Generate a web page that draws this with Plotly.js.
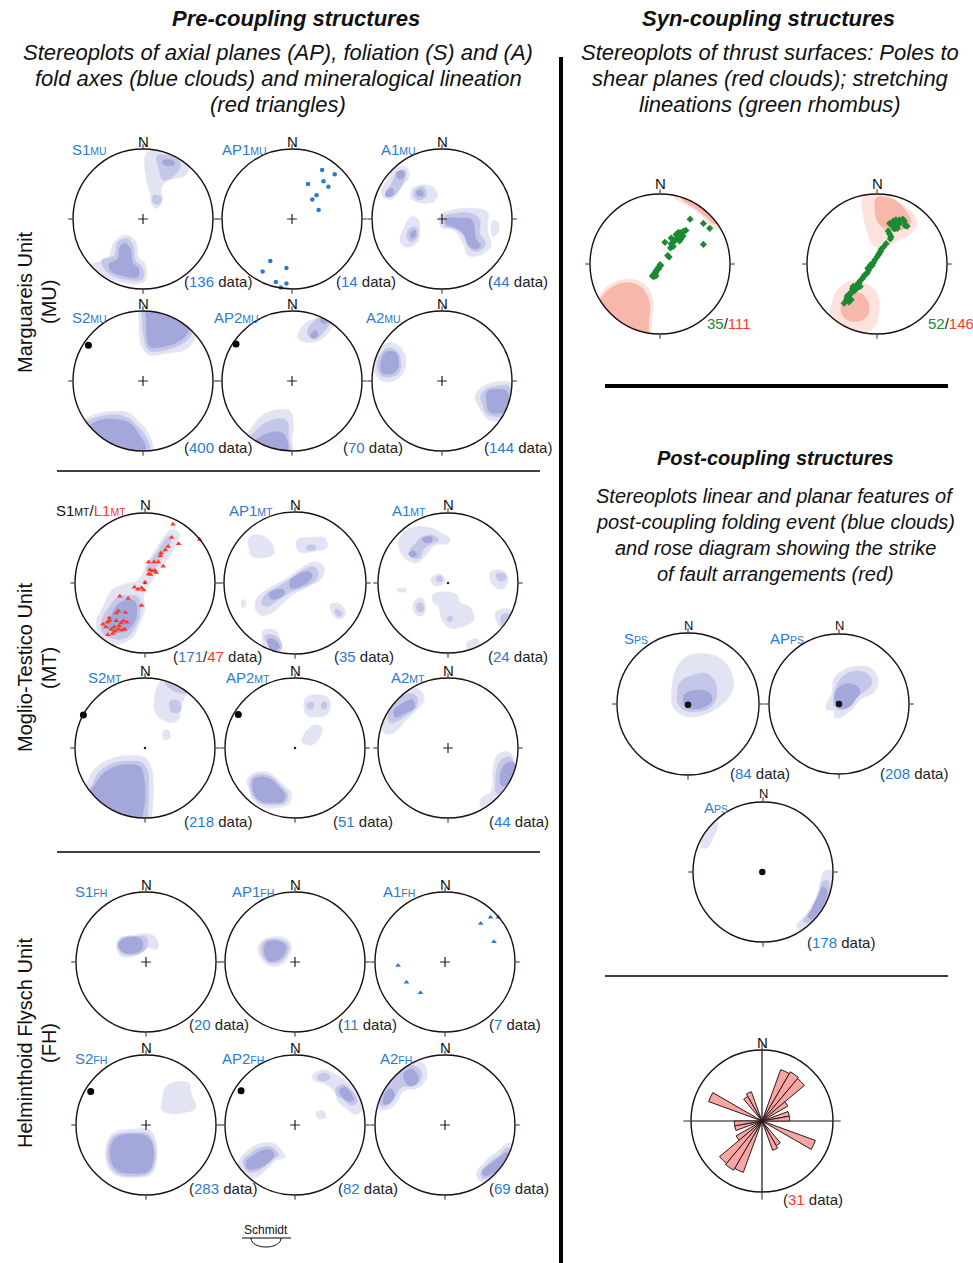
<!DOCTYPE html>
<html><head><meta charset="utf-8">
<script src="https://cdn.plot.ly/plotly-3.0.1.min.js"></script>
<style>html,body{margin:0;padding:0;background:#fff}#chart{width:973px;height:1263px}</style>
</head><body><div id="chart"></div>
<script>
// ---------------- DATA (unit-net coordinates: x = East, y = North, |v|<=1) ----------------
// Cloud contours: [level, polygon]; L = low density, M = medium, D = high density
const CLOUD_S1MU = [
 ['L',[[0.05,0.94],[0.23,1.0],[0.51,0.94],[0.66,0.77],[0.61,0.63],[0.36,0.55],[0.26,0.44],[0.28,0.27],[0.20,0.15],[0.13,0.20],[0.10,0.39],[0.05,0.55]]],
 ['L',[[-0.74,-0.64],[-0.51,-0.57],[-0.41,-0.33],[-0.26,-0.23],[-0.11,-0.31],[-0.06,-0.55],[0.03,-0.64],[0.03,-0.88],[-0.10,-0.93],[-0.36,-0.89],[-0.66,-0.79],[-0.77,-0.71]]],
 ['M',[[0.20,0.90],[0.46,0.88],[0.54,0.77],[0.42,0.60],[0.28,0.56],[0.23,0.72]]],
 ['M',[[0.15,0.34],[0.26,0.31],[0.24,0.22],[0.15,0.23]]],
 ['M',[[-0.59,-0.59],[-0.41,-0.52],[-0.36,-0.33],[-0.23,-0.28],[-0.14,-0.38],[-0.11,-0.59],[-0.01,-0.69],[-0.01,-0.86],[-0.26,-0.86],[-0.51,-0.76]]],
 ['D',[[0.28,0.83],[0.42,0.84],[0.45,0.78],[0.31,0.77]]],
 ['D',[[-0.48,-0.64],[-0.36,-0.57],[-0.33,-0.40],[-0.26,-0.35],[-0.18,-0.43],[-0.15,-0.62],[-0.06,-0.71],[-0.08,-0.83],[-0.28,-0.81],[-0.46,-0.74]]]
];
const PTS_AP1MU = [[0.43,0.70],[0.61,0.64],[0.23,0.50],[0.45,0.54],[0.52,0.46],[0.35,0.34],[0.29,0.28],[0.38,0.13],
 [-0.31,-0.60],[-0.42,-0.75],[-0.08,-0.70],[-0.23,-0.90],[-0.08,-0.92],[-0.16,-0.98]];
const CLOUD_A1MU = [
 ['L',[[-0.78,0.56],[-0.67,0.72],[-0.52,0.75],[-0.47,0.60],[-0.60,0.44],[-0.70,0.29],[-0.84,0.31],[-0.86,0.44]]],
 ['L',[[-0.44,0.41],[-0.34,0.48],[-0.14,0.46],[-0.06,0.34],[-0.14,0.24],[-0.34,0.24],[-0.44,0.29]]],
 ['L',[[-0.57,-0.19],[-0.44,0.03],[-0.34,0.0],[-0.32,-0.21],[-0.37,-0.35],[-0.52,-0.40],[-0.60,-0.31]]],
 ['L',[[-0.03,0.05],[0.14,0.13],[0.47,0.15],[0.65,0.10],[0.65,-0.16],[0.70,-0.38],[0.58,-0.50],[0.37,-0.52],[0.30,-0.35],[0.17,-0.16],[-0.01,-0.12]]],
 ['L',[[0.73,-0.02],[0.81,-0.07],[0.79,-0.21],[0.72,-0.24],[0.70,-0.11]]],
 ['M',[[-0.72,0.51],[-0.62,0.69],[-0.52,0.67],[-0.55,0.53],[-0.67,0.35],[-0.81,0.33]]],
 ['M',[[-0.39,0.41],[-0.27,0.46],[-0.22,0.34],[-0.32,0.27],[-0.40,0.32]]],
 ['M',[[-0.47,-0.14],[-0.37,-0.12],[-0.35,-0.26],[-0.44,-0.33],[-0.50,-0.26]]],
 ['M',[[0.04,0.04],[0.19,0.08],[0.42,0.08],[0.54,-0.01],[0.54,-0.21],[0.62,-0.35],[0.52,-0.46],[0.40,-0.43],[0.32,-0.26],[0.19,-0.14],[0.04,-0.10]]],
 ['D',[[-0.65,0.66],[-0.55,0.69],[-0.54,0.60],[-0.62,0.57]]],
 ['D',[[-0.80,0.39],[-0.71,0.44],[-0.70,0.34],[-0.79,0.32]]],
 ['D',[[-0.37,0.39],[-0.29,0.41],[-0.27,0.34],[-0.34,0.33]]],
 ['D',[[-0.44,-0.19],[-0.38,-0.16],[-0.39,-0.26],[-0.44,-0.27]]],
 ['D',[[0.06,0.0],[0.27,0.01],[0.41,0.0],[0.46,-0.11],[0.48,-0.28],[0.55,-0.38],[0.47,-0.43],[0.37,-0.36],[0.31,-0.21],[0.16,-0.11],[0.06,-0.07]]]
];
const CLOUD_S2MU = [
 ['L',[[-0.06,0.88],[-0.05,1.03],[0.36,1.07],[0.82,0.88],[0.76,0.64],[0.61,0.45],[0.36,0.40],[0.10,0.37],[-0.01,0.47],[-0.05,0.68]]],
 ['L',[[-0.84,-0.56],[-0.69,-0.48],[-0.41,-0.43],[-0.19,-0.46],[-0.08,-0.56],[0.05,-0.70],[0.13,-1.01],[-0.51,-1.09],[-1.02,-0.80]]],
 ['M',[[-0.01,0.88],[0.0,1.03],[0.40,1.02],[0.71,0.88],[0.69,0.66],[0.54,0.52],[0.31,0.44],[0.08,0.44],[0.01,0.64]]],
 ['M',[[-0.79,-0.58],[-0.66,-0.52],[-0.38,-0.48],[-0.20,-0.54],[-0.10,-0.63],[0.03,-0.78],[0.09,-1.01],[-0.51,-1.09],[-0.99,-0.80]]],
 ['D',[[0.05,0.88],[0.05,1.03],[0.40,0.98],[0.66,0.85],[0.62,0.66],[0.48,0.55],[0.28,0.49],[0.10,0.49],[0.05,0.68]]],
 ['D',[[-0.74,-0.62],[-0.61,-0.56],[-0.36,-0.55],[-0.18,-0.61],[-0.08,-0.73],[0.03,-0.99],[-0.51,-1.09],[-0.97,-0.82]]]
];
const CLOUD_AP2MU = [
 ['L',[[0.09,0.61],[0.16,0.80],[0.32,0.89],[0.49,0.95],[0.62,0.88],[0.51,0.68],[0.41,0.59],[0.24,0.55]]],
 ['L',[[-0.65,-0.75],[-0.45,-0.51],[-0.22,-0.41],[-0.03,-0.43],[0.02,-0.58],[0.0,-0.85],[0.01,-1.04],[-0.70,-1.09],[-0.86,-0.85]]],
 ['M',[[0.22,0.69],[0.29,0.83],[0.44,0.92],[0.55,0.86],[0.44,0.69],[0.34,0.60],[0.26,0.62]]],
 ['M',[[-0.60,-0.78],[-0.40,-0.61],[-0.19,-0.54],[-0.07,-0.58],[-0.05,-0.80],[-0.04,-1.04],[-0.70,-1.09],[-0.83,-0.87]]],
 ['D',[[0.27,0.67],[0.34,0.72],[0.37,0.65],[0.29,0.61]]],
 ['D',[[0.42,0.91],[0.52,0.89],[0.48,0.82],[0.41,0.84]]],
 ['D',[[-0.53,-0.85],[-0.35,-0.75],[-0.17,-0.73],[-0.09,-0.80],[-0.08,-1.04],[-0.65,-1.09],[-0.70,-0.97]]]
];
const CLOUD_A2MU = [
 ['L',[[-0.91,0.40],[-0.78,0.55],[-0.64,0.52],[-0.52,0.35],[-0.55,0.13],[-0.67,0.01],[-0.85,0.0],[-0.98,0.16]]],
 ['L',[[0.47,-0.22],[0.58,-0.08],[0.81,-0.01],[0.98,-0.03],[1.04,-0.32],[0.93,-0.54],[0.78,-0.58],[0.65,-0.54],[0.53,-0.37]]],
 ['M',[[-0.88,0.37],[-0.78,0.47],[-0.66,0.44],[-0.59,0.30],[-0.61,0.13],[-0.72,0.06],[-0.86,0.07],[-0.93,0.21]]],
 ['M',[[0.55,-0.22],[0.63,-0.12],[0.81,-0.07],[0.96,-0.08],[0.98,-0.32],[0.91,-0.49],[0.76,-0.51],[0.63,-0.46],[0.58,-0.34]]],
 ['D',[[-0.85,0.35],[-0.78,0.42],[-0.67,0.41],[-0.62,0.30],[-0.64,0.16],[-0.75,0.10],[-0.86,0.12]]],
 ['D',[[0.65,-0.15],[0.83,-0.12],[0.93,-0.15],[0.93,-0.42],[0.81,-0.46],[0.68,-0.44],[0.64,-0.32]]]
];
const CLOUD_S1MT = [
 ['L',[[-0.64,-0.78],[-0.70,-0.58],[-0.60,-0.34],[-0.48,-0.11],[-0.31,-0.02],[-0.10,0.04],[0.03,0.28],[0.18,0.52],[0.37,0.76],[0.49,0.71],[0.37,0.41],[0.20,0.18],[0.07,-0.01],[-0.02,-0.18],[0.0,-0.37],[-0.08,-0.58],[-0.18,-0.78],[-0.38,-0.88],[-0.56,-0.86]]],
 ['M',[[-0.61,-0.70],[-0.61,-0.51],[-0.51,-0.34],[-0.38,-0.20],[-0.23,-0.18],[-0.10,-0.20],[-0.07,-0.42],[-0.14,-0.63],[-0.26,-0.78],[-0.43,-0.80]]],
 ['M',[[0.04,0.25],[0.18,0.45],[0.33,0.66],[0.38,0.64],[0.26,0.40],[0.10,0.17],[0.03,0.16]]],
 ['D',[[-0.54,-0.63],[-0.48,-0.46],[-0.38,-0.30],[-0.24,-0.24],[-0.14,-0.27],[-0.12,-0.46],[-0.20,-0.63],[-0.33,-0.70],[-0.46,-0.70]]]
];
const PTS_L1MT = [[0.40,0.84],[0.38,0.65],[0.48,0.56],[0.78,0.62],[0.33,0.52],[0.29,0.47],[0.23,0.43],[0.22,0.39],[0.05,0.30],[0.13,0.30],
 [0.19,0.30],[0.26,0.24],[0.07,0.19],[0.10,0.17],[0.14,0.18],[0.05,0.13],[0.08,0.12],[0.16,0.15],[0.0,0.01],[-0.15,-0.06],
 [-0.10,-0.09],[-0.05,-0.07],[-0.02,-0.10],[-0.24,-0.22],[-0.36,-0.19],[-0.05,-0.32],[-0.38,-0.40],[-0.41,-0.43],[-0.28,-0.42],[-0.51,-0.50],
 [-0.54,-0.56],[-0.60,-0.59],[-0.41,-0.54],[-0.31,-0.54],[-0.26,-0.56],[-0.48,-0.66],[-0.43,-0.69],[-0.38,-0.66],[-0.33,-0.67],[-0.29,-0.66],
 [-0.53,-0.74],[-0.46,-0.72],[-0.37,-0.61],[-0.56,-0.63],[-0.44,-0.63],[-0.34,-0.57],[-0.51,-0.54]];
const CLOUD_AP1MT = [
 ['L',[[-0.56,-0.36],[-0.54,-0.22],[-0.34,-0.06],[-0.14,0.05],[0.07,0.20],[0.27,0.30],[0.41,0.23],[0.37,0.06],[0.17,-0.06],[-0.04,-0.17],[-0.19,-0.30],[-0.34,-0.43],[-0.49,-0.45]]],
 ['L',[[-0.64,0.65],[-0.47,0.67],[-0.31,0.53],[-0.31,0.40],[-0.59,0.37],[-0.65,0.49]]],
 ['L',[[0.02,0.60],[0.20,0.64],[0.42,0.63],[0.45,0.50],[0.30,0.45],[0.06,0.44]]],
 ['L',[[-0.75,-0.24],[-0.70,-0.24],[-0.70,-0.33],[-0.75,-0.34]]],
 ['L',[[0.50,-0.30],[0.64,-0.30],[0.71,-0.44],[0.62,-0.51],[0.53,-0.44]]],
 ['L',[[-0.45,-0.67],[-0.27,-0.67],[-0.20,-0.86],[-0.22,-1.02],[-0.43,-1.02],[-0.46,-0.81]]],
 ['M',[[-0.47,-0.29],[-0.42,-0.17],[-0.24,-0.05],[-0.06,0.06],[0.11,0.18],[0.26,0.23],[0.33,0.14],[0.27,0.02],[0.09,-0.07],[-0.09,-0.14],[-0.24,-0.24],[-0.39,-0.33]]],
 ['M',[[0.57,-0.37],[0.67,-0.42],[0.63,-0.47],[0.57,-0.44]]],
 ['M',[[-0.42,-0.74],[-0.32,-0.73],[-0.21,-0.81],[-0.19,-0.93],[-0.29,-0.96],[-0.39,-0.86]]],
 ['M',[[0.16,0.52],[0.28,0.53],[0.29,0.48],[0.17,0.47]]],
 ['D',[[-0.36,-0.14],[-0.17,-0.09],[-0.15,-0.16],[-0.33,-0.23]]],
 ['D',[[-0.06,0.05],[0.20,0.16],[0.24,0.09],[0.13,-0.02],[-0.06,-0.07]]],
 ['D',[[-0.38,-0.79],[-0.27,-0.81],[-0.22,-0.91],[-0.33,-0.95]]]
];
const CLOUD_A1MT = [
 ['L',[[-0.70,0.63],[-0.55,0.78],[-0.29,0.80],[-0.09,0.71],[0.03,0.63],[-0.01,0.56],[-0.19,0.54],[-0.32,0.39],[-0.44,0.29],[-0.57,0.32],[-0.67,0.42]]],
 ['L',[[-0.24,0.06],[-0.14,0.13],[-0.04,0.06],[-0.09,-0.03],[-0.21,-0.03]]],
 ['L',[[0.60,0.15],[0.78,0.18],[0.86,0.06],[0.78,-0.09],[0.65,-0.04]]],
 ['L',[[-0.72,-0.09],[-0.60,-0.08],[-0.60,-0.12],[-0.72,-0.12]]],
 ['L',[[-0.49,-0.28],[-0.37,-0.21],[-0.32,-0.37],[-0.37,-0.47],[-0.47,-0.44]]],
 ['L',[[-0.21,-0.16],[0.12,-0.16],[0.17,-0.28],[0.32,-0.35],[0.37,-0.52],[0.22,-0.62],[0.02,-0.64],[-0.09,-0.52],[-0.14,-0.33],[-0.21,-0.28]]],
 ['L',[[0.68,-0.42],[0.88,-0.37],[0.93,-0.61],[0.78,-0.66],[0.70,-0.56]]],
 ['L',[[0.27,-0.85],[0.42,-0.80],[0.47,-0.95],[0.32,-1.0]]],
 ['M',[[-0.55,0.46],[-0.47,0.56],[-0.37,0.66],[-0.21,0.68],[-0.13,0.61],[-0.24,0.56],[-0.34,0.49],[-0.42,0.35],[-0.52,0.37]]],
 ['M',[[-0.16,0.08],[-0.09,0.10],[-0.08,0.03],[-0.15,0.02]]],
 ['M',[[0.69,0.13],[0.81,0.13],[0.83,0.06],[0.73,0.03]]],
 ['M',[[-0.44,-0.30],[-0.37,-0.29],[-0.35,-0.40],[-0.43,-0.41]]],
 ['M',[[-0.01,-0.49],[0.06,-0.48],[0.06,-0.54],[-0.01,-0.54]]],
 ['M',[[0.76,-0.47],[0.86,-0.44],[0.88,-0.61],[0.79,-0.64]]],
 ['D',[[-0.37,0.63],[-0.24,0.66],[-0.23,0.59],[-0.33,0.58]]],
 ['D',[[-0.56,0.42],[-0.49,0.46],[-0.45,0.40],[-0.52,0.37]]]
];
const CLOUD_S2MT = [
 ['L',[[0.13,0.65],[0.18,0.89],[0.33,1.01],[0.79,0.84],[0.59,0.75],[0.51,0.56],[0.48,0.41],[0.36,0.36],[0.20,0.44],[0.14,0.53]]],
 ['L',[[0.26,0.24],[0.33,0.26],[0.36,0.15],[0.27,0.12]]],
 ['L',[[-0.87,-0.57],[-0.73,-0.31],[-0.48,-0.15],[-0.23,-0.11],[0.0,-0.14],[0.09,-0.28],[0.12,-0.57],[0.10,-0.93],[0.08,-1.12],[-0.79,-1.12],[-1.05,-0.69]]],
 ['M',[[0.28,0.96],[0.33,1.03],[0.79,0.87],[0.64,0.79],[0.48,0.79],[0.33,0.87]]],
 ['M',[[0.36,0.67],[0.48,0.67],[0.51,0.53],[0.38,0.51]]],
 ['M',[[-0.80,-0.59],[-0.66,-0.35],[-0.46,-0.22],[-0.23,-0.19],[-0.04,-0.21],[0.04,-0.35],[0.05,-0.64],[0.04,-0.93],[0.03,-1.12],[-0.79,-1.12],[-1.02,-0.69]]],
 ['D',[[-0.75,-0.57],[-0.61,-0.38],[-0.43,-0.27],[-0.23,-0.24],[-0.07,-0.27],[-0.02,-0.40],[0.0,-0.69],[-0.03,-0.93],[-0.08,-1.12],[-0.74,-1.12],[-0.97,-0.74]]]
];
const CLOUD_AP2MT = [
 ['L',[[0.13,0.56],[0.15,0.71],[0.31,0.76],[0.47,0.72],[0.51,0.59],[0.45,0.47],[0.31,0.44],[0.18,0.46]]],
 ['L',[[0.10,0.09],[0.15,0.23],[0.28,0.33],[0.38,0.30],[0.36,0.16],[0.23,0.04]]],
 ['L',[[-0.69,-0.46],[-0.61,-0.37],[-0.41,-0.34],[-0.18,-0.51],[-0.05,-0.66],[-0.09,-0.80],[-0.23,-0.85],[-0.43,-0.85],[-0.61,-0.73],[-0.66,-0.58]]],
 ['M',[[0.18,0.64],[0.26,0.65],[0.26,0.57],[0.19,0.56]]],
 ['M',[[0.38,0.64],[0.44,0.66],[0.45,0.57],[0.39,0.56]]],
 ['M',[[-0.64,-0.46],[-0.56,-0.39],[-0.38,-0.39],[-0.20,-0.54],[-0.10,-0.67],[-0.14,-0.78],[-0.28,-0.81],[-0.46,-0.80],[-0.59,-0.70],[-0.64,-0.58]]],
 ['D',[[-0.60,-0.46],[-0.54,-0.42],[-0.38,-0.43],[-0.22,-0.56],[-0.14,-0.68],[-0.18,-0.77],[-0.31,-0.78],[-0.46,-0.77],[-0.58,-0.67]]]
];
const CLOUD_A2MT = [
 ['L',[[-0.89,0.54],[-0.75,0.78],[-0.54,0.88],[-0.39,0.82],[-0.34,0.69],[-0.46,0.53],[-0.61,0.39],[-0.74,0.24],[-0.88,0.20],[-0.98,0.34]]],
 ['L',[[0.64,-0.33],[0.71,-0.09],[0.87,-0.06],[0.94,-0.16],[0.97,-0.42],[0.84,-0.71],[0.71,-0.78],[0.61,-0.71],[0.64,-0.51]]],
 ['L',[[0.48,-0.71],[0.64,-0.66],[0.66,-0.83],[0.54,-0.88],[0.46,-0.83]]],
 ['M',[[-0.84,0.54],[-0.71,0.70],[-0.54,0.78],[-0.44,0.73],[-0.46,0.58],[-0.61,0.46],[-0.75,0.37],[-0.84,0.37]]],
 ['M',[[0.69,-0.33],[0.77,-0.16],[0.89,-0.13],[0.95,-0.28],[0.92,-0.52],[0.79,-0.66],[0.69,-0.64],[0.68,-0.47]]],
 ['D',[[-0.77,0.54],[-0.66,0.63],[-0.51,0.69],[-0.48,0.58],[-0.64,0.49],[-0.75,0.44]]],
 ['D',[[0.74,-0.42],[0.82,-0.23],[0.94,-0.21],[0.94,-0.37],[0.84,-0.52],[0.77,-0.54]]]
];
const CLOUD_S1FH = [
 ['L',[[-0.42,0.24],[-0.37,0.35],[-0.17,0.38],[0.06,0.40],[0.17,0.29],[0.15,0.18],[0.02,0.21],[-0.10,0.11],[-0.35,0.08]]],
 ['M',[[-0.41,0.22],[-0.36,0.33],[-0.14,0.37],[0.01,0.35],[0.02,0.24],[-0.05,0.14],[-0.32,0.11]]],
 ['D',[[-0.39,0.24],[-0.34,0.32],[-0.12,0.35],[-0.05,0.29],[-0.07,0.17],[-0.30,0.13]]]
];
const CLOUD_AP1FH = [
 ['L',[[-0.52,0.24],[-0.43,0.33],[-0.16,0.35],[-0.06,0.26],[-0.08,0.10],[-0.18,-0.03],[-0.34,-0.06],[-0.46,0.02],[-0.52,0.13]]],
 ['M',[[-0.48,0.22],[-0.41,0.31],[-0.18,0.31],[-0.09,0.24],[-0.12,0.10],[-0.22,0.0],[-0.36,-0.01],[-0.45,0.06]]],
 ['D',[[-0.44,0.21],[-0.39,0.29],[-0.21,0.29],[-0.13,0.22],[-0.16,0.10],[-0.26,0.02],[-0.38,0.02],[-0.43,0.10]]]
];
const PTS_A1FH = [[0.51,0.55],[0.65,0.64],[0.76,0.64],[0.70,0.29],[-0.67,-0.05],[-0.55,-0.29],[-0.35,-0.44]];
const CLOUD_S2FH = [
 ['L',[[0.23,0.34],[0.28,0.54],[0.41,0.61],[0.61,0.60],[0.65,0.44],[0.71,0.24],[0.56,0.18],[0.36,0.16],[0.23,0.21]]],
 ['L',[[-0.56,-0.27],[-0.46,-0.11],[-0.18,-0.06],[0.05,-0.07],[0.14,-0.22],[0.15,-0.51],[0.08,-0.70],[-0.18,-0.75],[-0.46,-0.70],[-0.57,-0.51]]],
 ['M',[[-0.54,-0.30],[-0.45,-0.15],[-0.18,-0.11],[0.03,-0.13],[0.11,-0.25],[0.13,-0.51],[0.05,-0.68],[-0.18,-0.73],[-0.43,-0.68],[-0.54,-0.51]]],
 ['D',[[-0.50,-0.30],[-0.41,-0.17],[-0.18,-0.13],[0.01,-0.16],[0.09,-0.27],[0.10,-0.51],[0.03,-0.66],[-0.18,-0.69],[-0.41,-0.65],[-0.50,-0.50]]]
];
const CLOUD_AP2FH = [
 ['L',[[0.25,0.71],[0.40,0.79],[0.57,0.73],[0.72,0.63],[0.89,0.49],[0.99,0.25],[0.86,0.15],[0.76,0.21],[0.61,0.34],[0.56,0.48],[0.40,0.60],[0.28,0.63]]],
 ['L',[[0.30,0.18],[0.40,0.20],[0.44,0.11],[0.34,0.09]]],
 ['L',[[-0.80,-0.51],[-0.69,-0.38],[-0.52,-0.27],[-0.31,-0.26],[-0.18,-0.38],[-0.14,-0.46],[-0.28,-0.51],[-0.40,-0.63],[-0.54,-0.74],[-0.70,-0.74],[-0.81,-0.63]]],
 ['M',[[0.33,0.71],[0.43,0.74],[0.51,0.68],[0.43,0.63],[0.33,0.65]]],
 ['M',[[0.58,0.52],[0.68,0.58],[0.81,0.49],[0.89,0.33],[0.81,0.28],[0.68,0.37],[0.60,0.42]]],
 ['M',[[-0.74,-0.51],[-0.64,-0.41],[-0.49,-0.32],[-0.33,-0.32],[-0.24,-0.42],[-0.31,-0.49],[-0.44,-0.60],[-0.57,-0.67],[-0.69,-0.66]]],
 ['D',[[0.63,0.49],[0.71,0.54],[0.79,0.47],[0.84,0.36],[0.76,0.34],[0.66,0.42]]],
 ['D',[[-0.70,-0.53],[-0.60,-0.44],[-0.46,-0.36],[-0.34,-0.36],[-0.30,-0.44],[-0.36,-0.51],[-0.46,-0.59],[-0.58,-0.63],[-0.68,-0.62]]]
];
const CLOUD_A2FH = [
 ['L',[[-0.96,0.44],[-0.82,0.64],[-0.69,0.83],[-0.49,0.92],[-0.30,0.87],[-0.26,0.68],[-0.39,0.53],[-0.59,0.49],[-0.68,0.34],[-0.80,0.23],[-0.95,0.23]]],
 ['L',[[0.45,-0.70],[0.58,-0.51],[0.76,-0.37],[0.91,-0.25],[0.99,-0.37],[0.88,-0.61],[0.71,-0.78],[0.53,-0.82]]],
 ['M',[[-0.91,0.42],[-0.80,0.58],[-0.67,0.78],[-0.49,0.85],[-0.36,0.80],[-0.34,0.66],[-0.44,0.56],[-0.62,0.54],[-0.72,0.40],[-0.82,0.28],[-0.92,0.28]]],
 ['M',[[0.51,-0.68],[0.63,-0.54],[0.79,-0.42],[0.90,-0.32],[0.94,-0.42],[0.84,-0.58],[0.68,-0.73],[0.54,-0.76]]],
 ['D',[[-0.87,0.42],[-0.78,0.52],[-0.72,0.44],[-0.77,0.33],[-0.87,0.30]]],
 ['D',[[-0.59,0.73],[-0.49,0.80],[-0.40,0.73],[-0.39,0.61],[-0.49,0.56],[-0.56,0.61]]],
 ['D',[[0.54,-0.66],[0.67,-0.54],[0.81,-0.44],[0.89,-0.39],[0.90,-0.49],[0.79,-0.61],[0.66,-0.70],[0.55,-0.72]]]
];
// black mean poles of S2 / AP2
const POLE_S2MU = [[-0.78,0.51]], POLE_AP2MU = [[-0.80,0.53]], POLE_S2MT = [[-0.88,0.47]];
const POLE_AP2MT = [[-0.81,0.48]], POLE_S2FH = [[-0.79,0.48]], POLE_AP2FH = [[-0.77,0.49]];
// Syn-coupling: red clouds (poles to shear planes) and green stretching lineations
const CLOUD_SYN1 = [
 ['L',[[0.16,1.05],[0.22,0.93],[0.38,0.84],[0.55,0.73],[0.70,0.58],[0.78,0.50],[1.0,0.55],[0.63,1.19],[0.20,1.15]]],
 ['L',[[-0.86,-0.44],[-0.67,-0.27],[-0.38,-0.22],[-0.19,-0.32],[-0.10,-0.53],[-0.12,-0.79],[-0.17,-1.05],[-1.0,-0.85]]],
 ['D',[[0.28,1.0],[0.34,0.90],[0.50,0.80],[0.66,0.67],[0.76,0.58],[1.0,0.62],[0.55,1.15]]],
 ['D',[[-0.84,-0.48],[-0.65,-0.31],[-0.40,-0.27],[-0.23,-0.37],[-0.15,-0.55],[-0.16,-0.80],[-0.21,-1.05],[-1.0,-0.85]]]
];
const LIN_SYN1 = [[0.43,0.64],[0.62,0.58],[0.71,0.51],[0.62,0.28],[0.37,0.48],[0.34,0.47],[0.30,0.45],[0.28,0.44],[0.26,0.45],[0.23,0.42],
 [0.25,0.38],[0.30,0.36],[0.28,0.33],[0.21,0.33],[0.16,0.37],[0.27,0.40],[0.33,0.40],[0.07,0.31],[0.16,0.29],[0.19,0.25],
 [0.15,0.23],[0.11,0.12],[0.13,0.10],[0.0,-0.01],[-0.01,-0.04],[-0.03,-0.06],[-0.05,-0.09],[-0.07,-0.12],[-0.08,-0.15],[-0.09,-0.18],
 [-0.06,-0.13],[-0.02,-0.07],[0.01,-0.02],[-0.11,-0.17],[-0.06,-0.17]];
const CLOUD_SYN2 = [
 ['L',[[-0.20,0.96],[0.02,1.04],[0.32,0.88],[0.51,0.73],[0.57,0.56],[0.46,0.42],[0.27,0.32],[0.09,0.24],[-0.05,0.26],[-0.14,0.47],[-0.20,0.73]]],
 ['L',[[-0.65,-0.57],[-0.57,-0.38],[-0.37,-0.24],[-0.14,-0.29],[0.0,-0.42],[0.03,-0.66],[-0.04,-0.90],[-0.24,-1.01],[-0.51,-0.96],[-0.67,-0.76]]],
 ['D',[[-0.03,0.78],[0.0,0.95],[0.27,0.90],[0.43,0.73],[0.48,0.59],[0.36,0.49],[0.20,0.47],[0.06,0.54],[0.0,0.63]]],
 ['D',[[-0.51,-0.59],[-0.42,-0.45],[-0.26,-0.41],[-0.14,-0.52],[-0.12,-0.71],[-0.24,-0.81],[-0.42,-0.80],[-0.50,-0.71]]]
];
const LIN_SYN2 = [[0.18,0.58],[0.23,0.61],[0.27,0.63],[0.32,0.63],[0.37,0.64],[0.39,0.61],[0.32,0.58],[0.27,0.56],[0.22,0.54],[0.16,0.47],
 [0.18,0.43],[0.25,0.50],[0.29,0.51],[0.40,0.55],[0.43,0.54],[0.20,0.39],[0.19,0.36],[0.13,0.29],[0.09,0.24],[0.06,0.21],
 [0.05,0.18],[0.02,0.13],[0.0,0.10],[-0.03,0.06],[-0.05,0.02],[-0.07,-0.02],[-0.10,-0.05],[-0.12,-0.09],[-0.14,-0.13],[-0.17,-0.15],
 [-0.19,-0.18],[-0.21,-0.21],[-0.24,-0.24],[-0.26,-0.27],[-0.28,-0.29],[-0.24,-0.32],[-0.30,-0.34],[-0.35,-0.35],[-0.37,-0.40],[-0.38,-0.43],
 [-0.42,-0.45],[-0.43,-0.48],[-0.44,-0.52],[-0.47,-0.56],[-0.40,-0.54],[-0.37,-0.51],[-0.34,-0.32],[-0.28,-0.34],[-0.32,-0.38],[-0.09,-0.01],
 [-0.13,-0.06],[0.03,0.15]];
// Post-coupling
const CLOUD_SPS = [
 ['L',[[-0.23,0.19],[-0.16,0.51],[-0.02,0.67],[0.21,0.71],[0.46,0.64],[0.61,0.45],[0.64,0.23],[0.54,0.05],[0.36,-0.09],[0.12,-0.18],[-0.07,-0.16],[-0.21,-0.04]]],
 ['M',[[-0.15,0.17],[-0.11,0.31],[0.05,0.40],[0.26,0.43],[0.38,0.31],[0.40,0.10],[0.31,-0.05],[0.12,-0.11],[-0.04,-0.09],[-0.14,0.0]]],
 ['D',[[-0.06,0.12],[0.04,0.18],[0.21,0.19],[0.32,0.14],[0.33,0.03],[0.21,-0.05],[0.07,-0.07],[-0.04,-0.04]]]
];
const CLOUD_APPS = [
 ['L',[[-0.18,-0.01],[-0.10,0.16],[-0.08,0.35],[0.04,0.47],[0.25,0.54],[0.47,0.50],[0.56,0.30],[0.49,0.16],[0.30,0.06],[0.20,-0.06],[0.06,-0.17],[-0.06,-0.20],[-0.08,-0.10],[-0.18,-0.08]]],
 ['M',[[-0.08,0.09],[-0.03,0.28],[0.09,0.42],[0.25,0.47],[0.42,0.42],[0.47,0.30],[0.37,0.18],[0.25,0.10],[0.16,-0.03],[0.01,-0.08],[-0.07,-0.03]]],
 ['D',[[-0.06,0.12],[-0.01,0.23],[0.11,0.29],[0.25,0.26],[0.30,0.16],[0.23,0.06],[0.16,-0.03],[0.04,-0.07],[-0.04,-0.01]]]
];
const CLOUD_APS = [
 ['L',[[-0.88,0.45],[-0.79,0.64],[-0.69,0.74],[-0.64,0.69],[-0.71,0.50],[-0.79,0.35],[-0.88,0.35]]],
 ['L',[[0.48,-0.76],[0.60,-0.62],[0.74,-0.40],[0.81,-0.17],[0.88,0.02],[1.02,0.0],[1.0,-0.21],[0.90,-0.55],[0.71,-0.79],[0.52,-0.83]]],
 ['M',[[0.57,-0.71],[0.67,-0.57],[0.79,-0.36],[0.85,-0.14],[0.93,-0.12],[0.95,-0.29],[0.86,-0.52],[0.71,-0.71]]],
 ['D',[[0.64,-0.64],[0.70,-0.52],[0.79,-0.33],[0.86,-0.21],[0.91,-0.26],[0.88,-0.43],[0.79,-0.57],[0.69,-0.67]]]
];
const MEAN_SPS = [[0.0,-0.01]], MEAN_APPS = [[0.0,0.0]], MEAN_APS = [[-0.01,0.0]];
// Rose diagram of fault strikes: 10-degree bins (start azimuth) and relative petal length
const ROSE_BIN = [20, 30, 40, 50, 70, 80, 110, 140, 150];
const ROSE_LEN = [0.77, 0.80, 0.78, 0.42, 0.39, 0.39, 0.80, 0.40, 0.44];

// Text
const DATA_COUNTS = {S1MU:'136',AP1MU:'14',A1MU:'44',S2MU:'400',AP2MU:'70',A2MU:'144',
 AP1MT:'35',A1MT:'24',S2MT:'218',AP2MT:'51',A2MT:'44',
 S1FH:'20',AP1FH:'11',A1FH:'7',S2FH:'283',AP2FH:'82',A2FH:'69',SPS:'84',APPS:'208',APS:'178'};

// ---------------- STYLE / FRAME LAYOUT ----------------
const W = 973, H = 1263;
const BLUE_C = {L:'#e3e4f3', M:'#c5c7e8', D:'#a3a7da'};
const RED_C = {L:'#fde2dd', M:'#fbcdc4', D:'#f8b7ab'};
const TXT_BLUE = '#2b7bd0', TXT_RED = '#ff3a22', TXT_GREEN = '#1b8a30';
const NARROW = '"Liberation Sans Narrow","Arial Narrow","Liberation Sans",Arial,sans-serif';
const SANS = '"Liberation Sans",Arial,Helvetica,sans-serif';

// frame: key, centre x, centre y (px), radius (px), type, centre mark
const NETS = [
 ['S1MU',143,219,70,'L','+'],['AP1MU',292,219,70,'L','+'],['A1MU',442,219,70,'L','+'],
 ['S2MU',143,381,70,'L','+'],['AP2MU',292,381,70,'L','+'],['A2MU',442,381,70,'L','+'],
 ['S1MT',145,583,70,'L','.'],['AP1MT',295,583,71,'L',''],['A1MT',448,583,70,'L','.'],
 ['S2MT',145,748,70,'L','.'],['AP2MT',295,748,70,'L','.'],['A2MT',448,748,70,'L','+'],
 ['S1FH',146,962,70,'L','+'],['AP1FH',295,962,70,'L','+'],['A1FH',445,962,70,'L','+'],
 ['S2FH',146,1125,70,'L','+'],['AP2FH',295,1125,70,'L','+'],['A2FH',445,1125,70,'L','+'],
 ['SYN1',660,264,70,'S',''],['SYN2',877,264,70,'S',''],
 ['SPS',688,704,71,'P',''],['APPS',839,704,70,'P',''],['APS',763,872,70,'P',''],
 ['ROSE',762,1121,71,'R','']
];
const CLOUDS = {S1MU:CLOUD_S1MU,A1MU:CLOUD_A1MU,S2MU:CLOUD_S2MU,AP2MU:CLOUD_AP2MU,A2MU:CLOUD_A2MU,
 S1MT:CLOUD_S1MT,AP1MT:CLOUD_AP1MT,A1MT:CLOUD_A1MT,S2MT:CLOUD_S2MT,AP2MT:CLOUD_AP2MT,A2MT:CLOUD_A2MT,
 S1FH:CLOUD_S1FH,AP1FH:CLOUD_AP1FH,S2FH:CLOUD_S2FH,AP2FH:CLOUD_AP2FH,A2FH:CLOUD_A2FH,
 SYN1:CLOUD_SYN1,SYN2:CLOUD_SYN2,SPS:CLOUD_SPS,APPS:CLOUD_APPS,APS:CLOUD_APS};
const POLES = {S2MU:POLE_S2MU,AP2MU:POLE_AP2MU,S2MT:POLE_S2MT,AP2MT:POLE_AP2MT,S2FH:POLE_S2FH,AP2FH:POLE_AP2FH};
const MEANS = {SPS:MEAN_SPS,APPS:MEAN_APPS,APS:MEAN_APS};

function toPolar(pts, close){
  const p = close ? pts.concat([pts[0]]) : pts;
  return {r: p.map(([x,y])=>Math.hypot(x,y)),
          theta: p.map(([x,y])=>{let t=Math.atan2(x,y)*180/Math.PI; return t<0?t+360:t;})};
}
const fx = x => x/W, fy = y => 1 - y/H;

const traces = [];
const layout = {width:W, height:H, margin:{l:0,r:0,t:0,b:0}, paper_bgcolor:'#fff',
  showlegend:false, annotations:[], shapes:[], font:{family:SANS}};
const A = layout.annotations;
function txt(x,y,text,opt){
  A.push(Object.assign({xref:'paper', yref:'paper', x:fx(x), y:fy(y), text:text, showarrow:false,
    xanchor:'left', yanchor:'middle', font:{family:SANS, size:15, color:'#222'}}, opt||{}));
}

NETS.forEach(([key,cx,cy,R,type,mark],i)=>{
  const sp = i===0 ? 'polar' : 'polar'+(i+1);
  const isRose = type==='R';
  layout[sp] = {
    domain:{x:[fx(cx-R), fx(cx+R)], y:[fy(cy+R), fy(cy-R)]},
    bgcolor:'rgba(0,0,0,0)',
    radialaxis:{visible:false, range:[0,1]},
    angularaxis:{direction:'clockwise', rotation:90, tickmode:'array',
      tickvals:[0,90,180,270], showticklabels:false,
      ticks:'outside', ticklen: isRose?7:4, tickwidth:1, tickcolor:'#3a2020',
      showgrid:isRose, gridcolor:'#111', gridwidth:1.2,
      showline:true, linecolor:'#1a1010', linewidth:1.4},
    bargap:0
  };
  // north label
  txt(cx, cy-R-(type==='S'?10:8), 'N', {xanchor:'center', font:{family:SANS, size:type==='P'?13:15, color:'#111'}});
  if (CLOUDS[key]){
    const pal = type==='S' ? RED_C : BLUE_C;
    ['L','M','D'].forEach(lv=>{
      CLOUDS[key].filter(c=>c[0]===lv).forEach(c=>{
        const p = toPolar(c[1], true);
        traces.push({type:'scatterpolar', subplot:sp, r:p.r, theta:p.theta, mode:'lines',
          fill:'toself', fillcolor:pal[lv], line:{color:pal[lv], width:0.5, shape:'spline', smoothing:1.1},
          hoverinfo:'skip'});
      });
    });
  }
  if (mark==='+'){
    traces.push({type:'scatterpolar', subplot:sp, r:[0], theta:[0], mode:'markers',
      marker:{symbol:'cross-thin', size:7, line:{width:1.2, color:'#222'}}, hoverinfo:'skip'});
  } else if (mark==='.'){
    traces.push({type:'scatterpolar', subplot:sp, r:[0], theta:[0], mode:'markers',
      marker:{symbol:'circle', size:2.5, color:'#222'}, hoverinfo:'skip'});
  }
  if (POLES[key]){
    const p = toPolar(POLES[key]);
    traces.push({type:'scatterpolar', subplot:sp, r:p.r, theta:p.theta, mode:'markers',
      marker:{symbol:'circle', size:7, color:'#000'}, hoverinfo:'skip'});
  }
  if (MEANS[key]){
    const p = toPolar(MEANS[key]);
    traces.push({type:'scatterpolar', subplot:sp, r:p.r, theta:p.theta, mode:'markers',
      marker:{symbol:'circle', size:6.5, color:'#111'}, hoverinfo:'skip'});
  }
  const addPts = (pts, sym, size, col) => {
    const p = toPolar(pts);
    traces.push({type:'scatterpolar', subplot:sp, r:p.r, theta:p.theta, mode:'markers',
      marker:{symbol:sym, size:size, color:col}, hoverinfo:'skip', cliponaxis:false});
  };
  if (key==='AP1MU') addPts(PTS_AP1MU,'circle',4.5,TXT_BLUE);
  if (key==='S1MT') addPts(PTS_L1MT,'triangle-up',5,TXT_RED);
  if (key==='A1FH') addPts(PTS_A1FH,'triangle-up',5,TXT_BLUE);
  if (key==='SYN1') addPts(LIN_SYN1,'diamond',5.5,TXT_GREEN);
  if (key==='SYN2') addPts(LIN_SYN2,'diamond',5.5,TXT_GREEN);
  if (isRose){
    // bidirectional strikes: each bin is mirrored at +180
    const th = [], rr = [];
    ROSE_BIN.forEach((b,j)=>{ th.push(b+5, b+185); rr.push(ROSE_LEN[j], ROSE_LEN[j]); });
    traces.push({type:'barpolar', subplot:sp, r:rr, theta:th, width:th.map(()=>10),
      marker:{color:'#f7a6a4', line:{color:'#2a1a1a', width:1}}, hoverinfo:'skip'});
  }
});

// ---------------- TEXT ----------------
const sub = s => '<span style="font-size:10.5px">'+s+'</span>';
// headings
txt(296,19,'<b><i>Pre-coupling structures</i></b>',{xanchor:'center',font:{family:NARROW,size:22,color:'#111'}});
txt(768,19,'<b><i>Syn-coupling structures</i></b>',{xanchor:'center',font:{family:NARROW,size:22,color:'#111'}});
const PRE_LINES = ['Stereoplots of axial planes (AP), foliation (S) and (A)','fold axes (blue clouds) and mineralogical lineation','(red triangles)'];
const SYN_LINES = ['Stereoplots of thrust surfaces: Poles to','shear planes (red clouds); stretching','lineations (green rhombus)'];
const POST_LINES = ['Stereoplots linear and planar features of','post-coupling folding event (blue clouds)','and rose diagram showing the strike','of fault arrangements (red)'];
PRE_LINES.forEach((s,i)=>txt(278,53+i*25.5,'<i>'+s+'</i>',{xanchor:'center',font:{family:NARROW,size:22,color:'#111'}}));
SYN_LINES.forEach((s,i)=>txt(770,53+i*25.5,'<i>'+s+'</i>',{xanchor:'center',font:{family:NARROW,size:22,color:'#111'}}));
txt(775,458,'<b><i>Post-coupling structures</i></b>',{xanchor:'center',font:{family:SANS,size:20,color:'#111'}});
POST_LINES.forEach((s,i)=>txt(775,496+i*26,'<i>'+s+'</i>',{xanchor:'center',font:{family:SANS,size:20,color:'#111'}}));
// unit labels (vertical)
const UNITS = [['Marguareis Unit','(MU)',302],['Moglio-Testico Unit','(MT)',668],['Helminthoid Flysch Unit','(FH)',1043]];
UNITS.forEach(([a,b,y])=>{
  txt(25,y,a,{xanchor:'center',textangle:-90,font:{family:SANS,size:20,color:'#111'}});
  txt(49,y,b,{xanchor:'center',textangle:-90,font:{family:SANS,size:20,color:'#111'}});
});
// net names
const NAMES = [['S1','MU',70,149],['AP1','MU',220,149],['A1','MU',379,149],['S2','MU',70,317],['AP2','MU',212,317],['A2','MU',364,317],
 ['AP1','MT',227,511],['A1','MT',390,511],['S2','MT',86,677],['AP2','MT',224,677],['A2','MT',389,677],
 ['S1','FH',73,891],['AP1','FH',230,891],['A1','FH',381,891],['S2','FH',73,1058],['AP2','FH',220,1058],['A2','FH',378,1058],
 ['S','PS',622,638],['AP','PS',768,638],['A','PS',702,807]];
NAMES.forEach(([a,b,x,y])=>txt(x,y,a+sub(b),{font:{family:SANS,size:15,color:TXT_BLUE}}));
txt(54,511,'<span style="color:#111">S1</span><span style="color:#111;font-size:10.5px">MT</span><span style="color:#111">/</span><span style="color:'+TXT_RED+'">L1</span><span style="color:'+TXT_RED+';font-size:10.5px">MT</span>',{font:{family:SANS,size:15,color:'#111'}});
// data counts
const COUNT_POS = [['S1MU',182,282],['AP1MU',334,282],['A1MU',486,282],['S2MU',182,447],['AP2MU',341,447],['A2MU',482,447],
 ['AP1MT',332,656],['A1MT',486,656],['S2MT',182,822],['AP2MT',331,822],['A2MT',487,822],
 ['S1FH',187,1024],['AP1FH',336,1024],['A1FH',487,1024],['S2FH',187,1188],['AP2FH',336,1188],['A2FH',487,1188],
 ['SPS',728,773],['APPS',878,773],['APS',805,942]];
COUNT_POS.forEach(([k,x,y])=>txt(x,y,'(<span style="color:'+TXT_BLUE+'">'+DATA_COUNTS[k]+'</span> data)'));
txt(171,656,'(<span style="color:'+TXT_BLUE+'">171</span>/<span style="color:'+TXT_RED+'">47</span> data)');
txt(781,1199,'(<span style="color:'+TXT_RED+'">31</span> data)');
txt(705,323,'<span style="color:'+TXT_GREEN+'">35</span>/<span style="color:'+TXT_RED+'">111</span>',{font:{family:SANS,size:15,color:'#222'}});
txt(926,323,'<span style="color:'+TXT_GREEN+'">52</span>/<span style="color:'+TXT_RED+'">146</span>',{font:{family:SANS,size:15,color:'#222'}});
txt(266,1230,'Schmidt',{xanchor:'center',font:{family:SANS,size:12,color:'#111'}});

// ---------------- FRAME LINES ----------------
const S = layout.shapes;
function hline(x0,x1,y,w){S.push({type:'line',xref:'paper',yref:'paper',x0:fx(x0),x1:fx(x1),y0:fy(y),y1:fy(y),line:{color:'#000',width:w}});}
S.push({type:'line',xref:'paper',yref:'paper',x0:fx(561),x1:fx(561),y0:fy(57),y1:0,line:{color:'#000',width:4}});
hline(57,540,471,1.5); hline(57,540,852,1.5);
hline(605,948,386,4); hline(605,948,976,1.5);
hline(242,291,1238,1);
S.push({type:'path',xref:'paper',yref:'paper',
  path:'M '+fx(251)+' '+fy(1238)+' C '+fx(251)+' '+fy(1250)+' '+fx(281)+' '+fy(1250)+' '+fx(281)+' '+fy(1238),
  line:{color:'#111',width:1}});

Plotly.newPlot('chart', traces, layout, {staticPlot:true});
</script></body></html>
